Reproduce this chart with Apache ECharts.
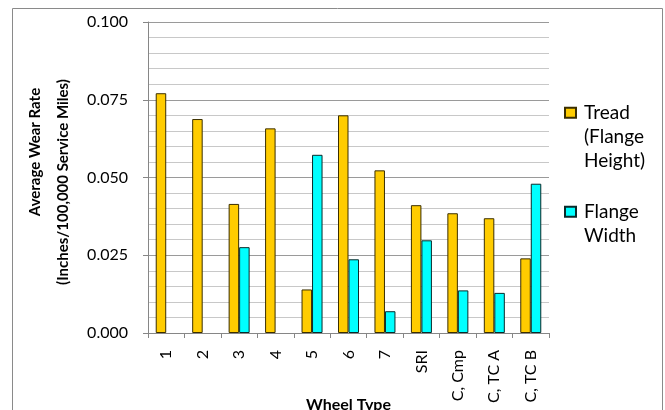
<!DOCTYPE html>
<html><head><meta charset="utf-8">
<script src="https://cdn.jsdelivr.net/npm/echarts@6/dist/echarts.min.js"></script>
<style>html,body{margin:0;padding:0;background:#fff}#c{width:665px;height:410px}</style>
</head><body><div id="c"></div>
<script>
const categories = ['1','2','3','4','5','6','7','SRI','C, Cmp','C, TC A','C, TC B'];
const treadValues = [0.0771,0.0688,0.0415,0.0658,0.0140,0.0700,0.0523,0.0411,0.0385,0.0369,0.0240];
const widthValues = [-0.0004,-0.0004,0.0276,-0.0004,0.0573,0.0237,0.0070,0.0298,0.0137,0.0129,0.0480];
const seriesNames = ['Tread (Flange Height)','Flange Width'];
const legendLabels = ['\n\nTread\n(Flange\nHeight)','\nFlange\nWidth'];
const yTicks = {min:0, max:0.1, interval:0.025};

const FONT = 'Lato';
const chart = echarts.init(document.getElementById('c'), null, {renderer:'canvas'});
chart.setOption({
  backgroundColor:'#fff',
  animation:false,
  grid:{left:148,right:116,top:22,bottom:77,containLabel:false,outerBoundsMode:'none'},
  graphic:[
    {type:'rect',shape:{x:12.5,y:8.5,width:650,height:420},style:{fill:'none',stroke:'#8a8a8a',lineWidth:1},silent:true,z:-1},
    {type:'text',x:35,y:152,rotation:Math.PI/2,style:{text:'Average Wear Rate',font:'bold 15px '+FONT,fill:'#000',align:'center',verticalAlign:'middle'}},
    {type:'text',x:63,y:182,rotation:Math.PI/2,style:{text:'(Inches/100,000 Service Miles)',font:'bold 15px '+FONT,fill:'#000',align:'center',verticalAlign:'middle'}}
  ],
  legend:[
    {data:[seriesNames[0]],left:564,top:52.7,orient:'vertical',padding:0,itemWidth:11,itemHeight:10,
     icon:'rect',formatter:()=>legendLabels[0],
     textStyle:{fontFamily:FONT,fontSize:19,color:'#000',lineHeight:24,padding:[0,0,0,3]}},
    {data:[seriesNames[1]],left:564,top:175.7,orient:'vertical',padding:0,itemWidth:11,itemHeight:10,
     icon:'rect',formatter:()=>legendLabels[1],
     textStyle:{fontFamily:FONT,fontSize:19,color:'#000',lineHeight:24,padding:[0,0,0,3]}}
  ],
  xAxis:{
    type:'category',data:categories,boundaryGap:true,
    name:'Wheel Type',nameLocation:'middle',nameGap:64,nameMoveOverlap:false,
    nameTextStyle:{fontFamily:FONT,fontWeight:'bold',fontSize:16,color:'#000'},
    axisLine:{lineStyle:{color:'#868686'}},
    axisTick:{show:true,length:5,alignWithLabel:false,lineStyle:{color:'#868686'}},
    axisLabel:{rotate:90,margin:17,fontFamily:FONT,fontSize:16,color:'#000',interval:0}
  },
  yAxis:{
    type:'value',min:yTicks.min,max:yTicks.max,interval:yTicks.interval,
    axisLine:{show:true,lineStyle:{color:'#868686'}},
    axisTick:{show:true,length:5,lineStyle:{color:'#868686'}},
    axisLabel:{margin:20,fontFamily:FONT,fontSize:16,color:'#000',formatter:v=>v.toFixed(3)},
    splitLine:{show:true,lineStyle:{color:'#9a9a9a',width:1}},
    minorTick:{show:false,splitNumber:5},
    minorSplitLine:{show:true,lineStyle:{color:'#c8c8c8',width:1}}
  },
  series:[
    {name:seriesNames[0],type:'bar',data:treadValues,barWidth:10.5,barGap:'0%',
     itemStyle:{color:'#FFCC00',borderColor:'#3a2e00',borderWidth:1}},
    {name:seriesNames[1],type:'bar',data:widthValues,barWidth:10.5,barGap:'0%',
     itemStyle:{color:'#00FFFF',borderColor:'#0a2a2a',borderWidth:1}}
  ]
});
</script></body></html>
